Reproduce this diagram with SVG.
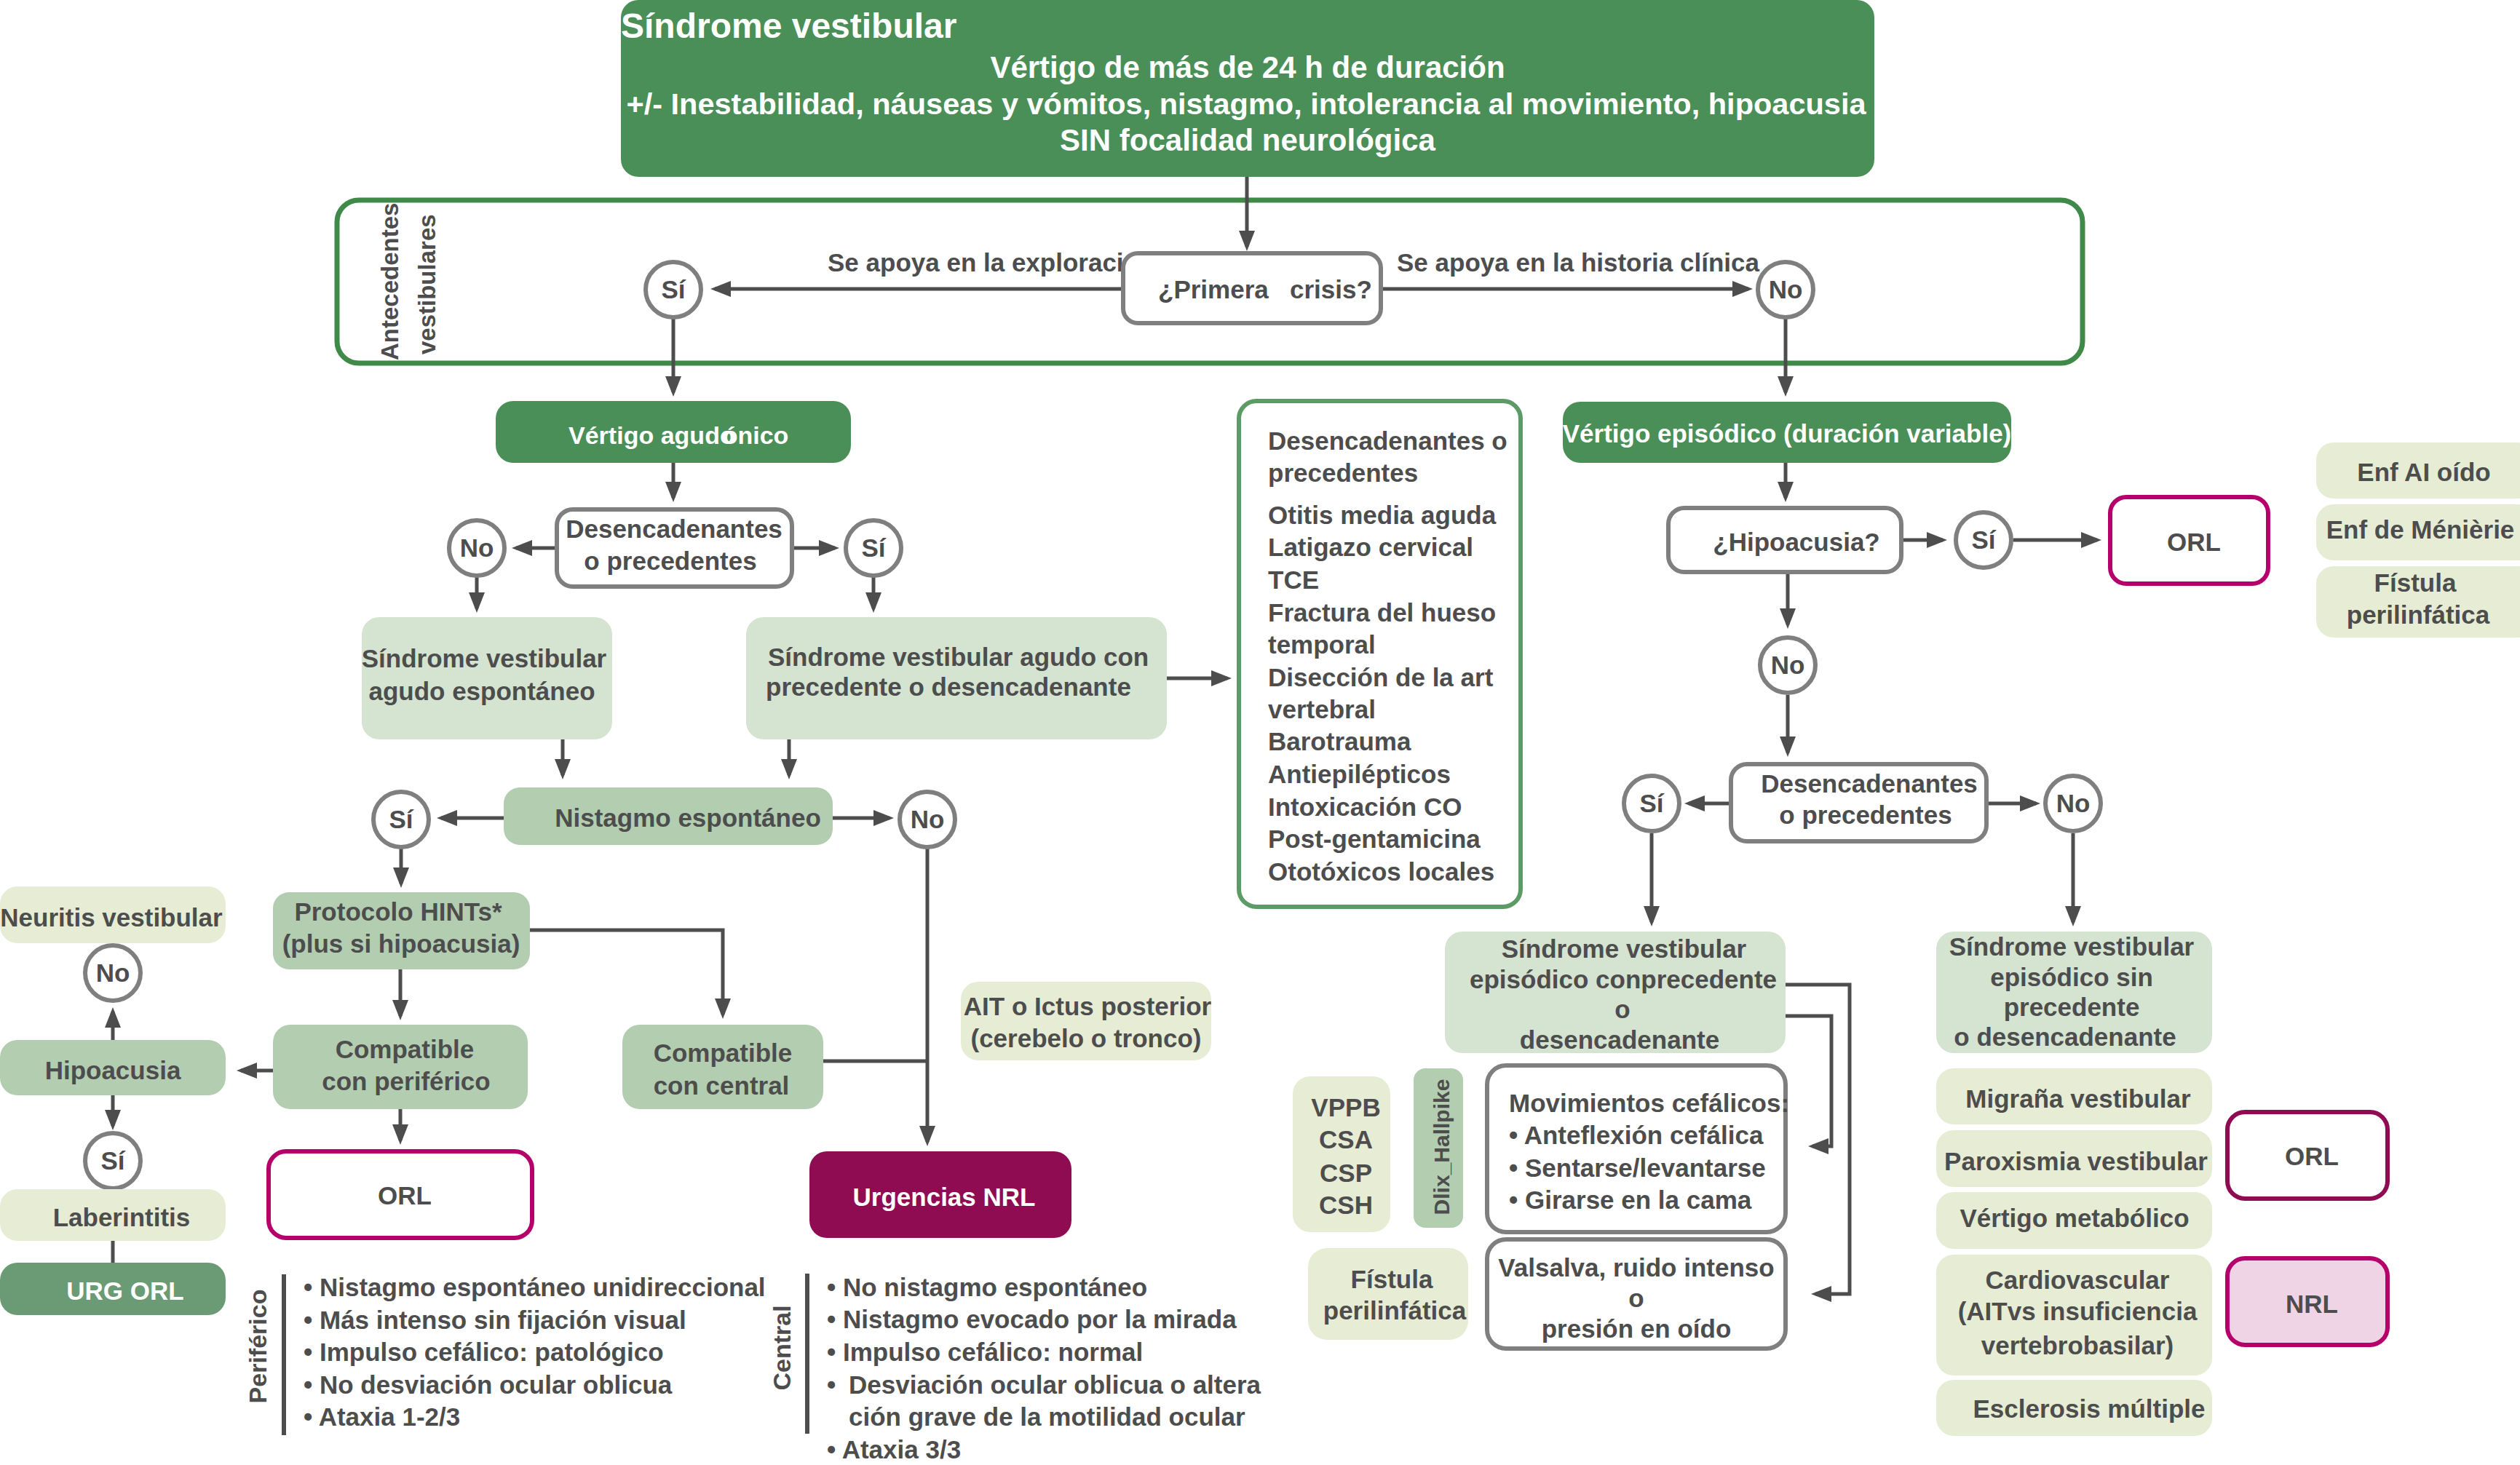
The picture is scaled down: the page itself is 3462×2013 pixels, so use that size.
<svg xmlns="http://www.w3.org/2000/svg" width="3462" height="2013" viewBox="0 0 3462 2013">
<defs>
<style>
text{font-family:"Liberation Sans",Arial,Helvetica,sans-serif;font-weight:bold;font-size:35px;fill:#4d4d4d}
.m{text-anchor:middle}
.w{fill:#ffffff}
.dg{fill:#4a8f57}
.lg{fill:#d4e4d1}
.mg{fill:#b3cdb1}
.pg{fill:#e6edd4}
.q{fill:#ffffff;stroke:#7f7f7f;stroke-width:6}
.ci{fill:#ffffff;stroke:#7f7f7f;stroke-width:6}
.orl{fill:#ffffff;stroke:#b5006b;stroke-width:6}
.conn path{fill:none;stroke:#4d4d4d;stroke-width:5}
</style>
<marker id="ah" markerUnits="userSpaceOnUse" markerWidth="28" markerHeight="22" refX="22" refY="11" orient="auto">
<path d="M0,0 L28,11 L0,22 z" fill="#4d4d4d"/>
</marker>
</defs>
<rect width="3462" height="2013" fill="#ffffff"/>

<g id="top">
<rect x="853" y="0" width="1722" height="243" rx="24" class="dg"/>
<text x="853" y="52" class="w" style="font-size:48px">Síndrome vestibular</text>
<text x="1714" y="107" class="w m" style="font-size:42px">Vértigo de más de 24 h de duración</text>
<text x="1712" y="157" class="w m" style="font-size:41.5px">+/- Inestabilidad, náuseas y vómitos, nistagmo, intolerancia al movimiento, hipoacusia</text>
<text x="1714" y="207" class="w m" style="font-size:42px">SIN focalidad neurológica</text>
</g>

<g id="antecedentes">
<rect x="463" y="275" width="2398" height="224" rx="30" fill="none" stroke="#3f8a48" stroke-width="7"/>
<text transform="translate(547,495) rotate(-90)" style="font-size:33px">Antecedentes</text>
<text transform="translate(598,487) rotate(-90)" style="font-size:33px">vestibulares</text>
</g>

<g id="conn" class="conn">
<path d="M1713,243 V339" marker-end="url(#ah)"/>
<path d="M1543,397 H982" marker-end="url(#ah)"/>
<path d="M1897,397 H2402" marker-end="url(#ah)"/>
<path d="M925,438 V539" marker-end="url(#ah)"/>
<path d="M2453,438 V539" marker-end="url(#ah)"/>
<path d="M925,636 V684" marker-end="url(#ah)"/>
<path d="M765,753 H709" marker-end="url(#ah)"/>
<path d="M1088,753 H1147" marker-end="url(#ah)"/>
<path d="M655,791 V836" marker-end="url(#ah)"/>
<path d="M1200,791 V836" marker-end="url(#ah)"/>
<path d="M1603,932 H1686" marker-end="url(#ah)"/>
<path d="M773,1016 V1065" marker-end="url(#ah)"/>
<path d="M1084,1016 V1065" marker-end="url(#ah)"/>
<path d="M692,1124 H606" marker-end="url(#ah)"/>
<path d="M1144,1124 H1222" marker-end="url(#ah)"/>
<path d="M551,1164 V1214" marker-end="url(#ah)"/>
<path d="M1274,1164 V1569" marker-end="url(#ah)"/>
<path d="M728,1278 H993 V1394" marker-end="url(#ah)"/>
<path d="M550,1332 V1396" marker-end="url(#ah)"/>
<path d="M1131,1458 H1274"/>
<path d="M375,1471 H331" marker-end="url(#ah)"/>
<path d="M155,1429 V1390" marker-end="url(#ah)"/>
<path d="M155,1505 V1547" marker-end="url(#ah)"/>
<path d="M155,1705 V1735"/>
<path d="M550,1524 V1567" marker-end="url(#ah)"/>
<path d="M2453,636 V684" marker-end="url(#ah)"/>
<path d="M2612,742 H2669" marker-end="url(#ah)"/>
<path d="M2766,742 H2881" marker-end="url(#ah)"/>
<path d="M2456,786 V858" marker-end="url(#ah)"/>
<path d="M2456,955 V1034" marker-end="url(#ah)"/>
<path d="M2378,1104 H2320" marker-end="url(#ah)"/>
<path d="M2729,1104 H2797" marker-end="url(#ah)"/>
<path d="M2269,1145 V1267" marker-end="url(#ah)"/>
<path d="M2848,1145 V1267" marker-end="url(#ah)"/>
<path d="M2453,1353 H2541 V1778 H2494" marker-end="url(#ah)"/>
<path d="M2453,1396 H2516 V1575 H2490" marker-end="url(#ah)"/>
</g>

<g id="labels">
<text x="1137" y="373">Se apoya en la exploraci</text>
<text x="1919" y="373">Se apoya en la historia clínica</text>
</g>

<g id="primera">
<rect x="1543" y="348" width="354" height="96" rx="20" class="q"/>
<text x="1591" y="410" xml:space="preserve">¿Primera   crisis?</text>
</g>

<g id="c-si1"><circle cx="925" cy="398" r="38" class="ci"/><text x="925" y="410" class="m">Sí</text></g>
<g id="c-no1"><circle cx="2453" cy="398" r="38" class="ci"/><text x="2453" y="410" class="m">No</text></g>

<g id="vert-agudo">
<rect x="681" y="551" width="488" height="85" rx="24" class="dg"/>
<text x="781" y="610" dx="0 0 0 0 0 0 0 0 0 0 0 0 0 -17" class="w" style="font-size:34px">Vértigo agudoónico</text>
</g>

<g id="desenc1">
<rect x="765" y="700" width="323" height="106" rx="22" class="q"/>
<text x="926" y="739" class="m">Desencadenantes</text>
<text x="921" y="783" class="m">o precedentes</text>
</g>
<g id="c-no2"><circle cx="655" cy="753" r="38" class="ci"/><text x="655" y="765" class="m">No</text></g>
<g id="c-si2"><circle cx="1200" cy="753" r="38" class="ci"/><text x="1200" y="765" class="m">Sí</text></g>

<g id="sva-esp">
<rect x="497" y="848" width="344" height="168" rx="24" class="lg"/>
<text x="665" y="917" class="m">Síndrome vestibular</text>
<text x="662" y="962" class="m">agudo espontáneo</text>
</g>

<g id="sva-prec">
<rect x="1025" y="848" width="578" height="168" rx="24" class="lg"/>
<text x="1055" y="915">Síndrome vestibular agudo con</text>
<text x="1052" y="956">precedente o desencadenante</text>
</g>

<g id="nistagmo">
<rect x="692" y="1082" width="452" height="79" rx="22" class="mg"/>
<text x="945" y="1136" class="m">Nistagmo espontáneo</text>
</g>
<g id="c-si3"><circle cx="551" cy="1126" r="38" class="ci"/><text x="551" y="1138" class="m">Sí</text></g>
<g id="c-no3"><circle cx="1274" cy="1126" r="38" class="ci"/><text x="1274" y="1138" class="m">No</text></g>

<g id="hints">
<rect x="375" y="1226" width="353" height="106" rx="22" class="mg"/>
<text x="547" y="1265" class="m">Protocolo HINTs*</text>
<text x="551" y="1309" class="m">(plus si hipoacusia)</text>
</g>

<g id="comp-per">
<rect x="375" y="1408" width="350" height="116" rx="24" class="mg"/>
<text x="556" y="1454" class="m">Compatible</text>
<text x="558" y="1498" class="m">con periférico</text>
</g>

<g id="comp-cen">
<rect x="855" y="1408" width="276" height="116" rx="24" class="mg"/>
<text x="993" y="1459" class="m">Compatible</text>
<text x="991" y="1504" class="m">con central</text>
</g>

<g id="neuritis">
<rect x="0" y="1218" width="310" height="78" rx="24" class="pg"/>
<text x="153" y="1273" class="m">Neuritis vestibular</text>
</g>
<g id="c-no4"><circle cx="155" cy="1337" r="38" class="ci"/><text x="155" y="1349" class="m">No</text></g>
<g id="hipoacusia1">
<rect x="0" y="1429" width="310" height="76" rx="24" class="mg"/>
<text x="155" y="1483" class="m">Hipoacusia</text>
</g>
<g id="c-si4"><circle cx="155" cy="1595" r="38" class="ci"/><text x="155" y="1607" class="m">Sí</text></g>
<g id="laberintitis">
<rect x="0" y="1634" width="310" height="71" rx="24" class="pg"/>
<text x="167" y="1685" class="m">Laberintitis</text>
</g>
<g id="urg-orl">
<rect x="0" y="1735" width="310" height="72" rx="24" fill="#6b9b74"/>
<text x="172" y="1786" class="m w">URG ORL</text>
</g>

<g id="orl1">
<rect x="369" y="1582" width="362" height="119" rx="24" class="orl"/>
<text x="556" y="1655" class="m">ORL</text>
</g>

<g id="urg-nrl">
<rect x="1112" y="1582" width="360" height="119" rx="24" fill="#8f0c52"/>
<text x="1297" y="1657" class="m w">Urgencias NRL</text>
</g>

<g id="ait">
<rect x="1320" y="1349" width="344" height="108" rx="24" class="pg"/>
<text x="1494" y="1395" class="m">AIT o Ictus posterior</text>
<text x="1492" y="1439" class="m">(cerebelo o tronco)</text>
</g>

<g id="periferico">
<path d="M390,1751 V1972" stroke="#4d4d4d" stroke-width="6"/>
<text transform="translate(366,1850) rotate(-90)" class="m" style="font-size:34px">Periférico</text>
<text x="417" y="1781">• Nistagmo espontáneo unidireccional</text>
<text x="417" y="1826">• Más intenso sin fijación visual</text>
<text x="417" y="1870">• Impulso cefálico: patológico</text>
<text x="417" y="1915">• No desviación ocular oblicua</text>
<text x="417" y="1959">• Ataxia 1-2/3</text>
</g>

<g id="central">
<path d="M1109,1750 V1970" stroke="#4d4d4d" stroke-width="6"/>
<text transform="translate(1086,1852) rotate(-90)" class="m" style="font-size:34px">Central</text>
<text x="1136" y="1781">• No nistagmo espontáneo</text>
<text x="1136" y="1825">• Nistagmo evocado por la mirada</text>
<text x="1136" y="1870">• Impulso cefálico: normal</text>
<text x="1136" y="1915">•<tspan x="1166">Desviación ocular oblicua o altera</tspan></text>
<text x="1166" y="1959">ción grave de la motilidad ocular</text>
<text x="1136" y="2004">• Ataxia 3/3</text>
</g>

<g id="desenc-list">
<rect x="1702" y="551" width="387" height="695" rx="24" fill="#ffffff" stroke="#5c9b66" stroke-width="6"/>
<text x="1742" y="618">Desencadenantes o</text>
<text x="1742" y="662">precedentes</text>
<text x="1742" y="720">Otitis media aguda</text>
<text x="1742" y="764">Latigazo cervical</text>
<text x="1742" y="809">TCE</text>
<text x="1742" y="854">Fractura del hueso</text>
<text x="1742" y="898">temporal</text>
<text x="1742" y="943">Disección de la art</text>
<text x="1742" y="987">vertebral</text>
<text x="1742" y="1031">Barotrauma</text>
<text x="1742" y="1076">Antiepilépticos</text>
<text x="1742" y="1121">Intoxicación CO</text>
<text x="1742" y="1165">Post-gentamicina</text>
<text x="1742" y="1210">Ototóxicos locales</text>
</g>

<g id="vert-epis">
<rect x="2147" y="552" width="616" height="84" rx="24" class="dg"/>
<text x="2455" y="608" class="m w">Vértigo episódico (duración variable)</text>
</g>

<g id="hipoacusia2">
<rect x="2292" y="698" width="320" height="88" rx="22" class="q"/>
<text x="2468" y="757" class="m">¿Hipoacusia?</text>
</g>
<g id="c-si5"><circle cx="2725" cy="742" r="38" class="ci"/><text x="2725" y="754" class="m">Sí</text></g>
<g id="orl2">
<rect x="2899" y="683" width="217" height="119" rx="22" class="orl"/>
<text x="3014" y="757" class="m">ORL</text>
</g>

<g id="enf-ai"><rect x="3182" y="608" width="300" height="77" rx="24" class="pg"/><text x="3330" y="661" class="m">Enf AI oído</text></g>
<g id="enf-men"><rect x="3182" y="693" width="300" height="77" rx="24" class="pg"/><text x="3325" y="740" class="m">Enf de Ménièrie</text></g>
<g id="fistula1"><rect x="3182" y="778" width="300" height="98" rx="24" class="pg"/><text x="3318" y="813" class="m">Fístula</text><text x="3322" y="857" class="m">perilinfática</text></g>

<g id="c-no5"><circle cx="2456" cy="914" r="38" class="ci"/><text x="2456" y="926" class="m">No</text></g>

<g id="desenc2">
<rect x="2378" y="1050" width="351" height="106" rx="22" class="q"/>
<text x="2568" y="1089" class="m">Desencadenantes</text>
<text x="2563" y="1132" class="m">o precedentes</text>
</g>
<g id="c-si6"><circle cx="2269" cy="1104" r="38" class="ci"/><text x="2269" y="1116" class="m">Sí</text></g>
<g id="c-no6"><circle cx="2848" cy="1104" r="38" class="ci"/><text x="2848" y="1116" class="m">No</text></g>

<g id="sve-prec">
<rect x="1985" y="1280" width="468" height="167" rx="24" class="lg"/>
<text x="2231" y="1316" class="m">Síndrome vestibular</text>
<text x="2230" y="1358" class="m">episódico conprecedente</text>
<text x="2229" y="1399" class="m">o</text>
<text x="2225" y="1441" class="m">desencadenante</text>
</g>

<g id="movimientos">
<rect x="2043" y="1464" width="410" height="229" rx="26" class="q"/>
<text x="2073" y="1528">Movimientos cefálicos:</text>
<text x="2073" y="1572">• Anteflexión cefálica</text>
<text x="2073" y="1617">• Sentarse/levantarse</text>
<text x="2073" y="1661">• Girarse en la cama</text>
</g>

<g id="valsalva">
<rect x="2043" y="1703" width="410" height="150" rx="26" class="q"/>
<text x="2248" y="1754" class="m">Valsalva, ruido intenso</text>
<text x="2248" y="1796" class="m">o</text>
<text x="2248" y="1838" class="m">presión en oído</text>
</g>

<g id="vppb">
<rect x="1776" y="1479" width="134" height="214" rx="24" class="pg"/>
<text x="1849" y="1534" class="m">VPPB</text>
<text x="1849" y="1578" class="m">CSA</text>
<text x="1849" y="1624" class="m">CSP</text>
<text x="1849" y="1668" class="m">CSH</text>
</g>

<g id="dix">
<rect x="1942" y="1468" width="68" height="219" rx="16" class="mg"/>
<text transform="translate(1991,1576) rotate(-90)" class="m" style="font-size:30px">Dlix_Hallpike</text>
</g>

<g id="fistula2">
<rect x="1797" y="1715" width="220" height="126" rx="26" class="pg"/>
<text x="1912" y="1770" class="m">Fístula</text>
<text x="1916" y="1813" class="m">perilinfática</text>
</g>

<g id="sve-sin">
<rect x="2660" y="1280" width="379" height="167" rx="24" class="lg"/>
<text x="2846" y="1313" class="m">Síndrome vestibular</text>
<text x="2846" y="1355" class="m">episódico sin</text>
<text x="2846" y="1396" class="m">precedente</text>
<text x="2837" y="1437" class="m">o desencadenante</text>
</g>

<g id="migrana"><rect x="2660" y="1468" width="379" height="77" rx="24" class="pg"/><text x="2855" y="1522" class="m">Migraña vestibular</text></g>
<g id="paroxismia"><rect x="2660" y="1553" width="379" height="78" rx="24" class="pg"/><text x="2852" y="1608" class="m">Paroxismia vestibular</text></g>
<g id="metabolico"><rect x="2660" y="1638" width="379" height="78" rx="24" class="pg"/><text x="2850" y="1686" class="m">Vértigo metabólico</text></g>
<g id="cardio"><rect x="2660" y="1724" width="379" height="166" rx="24" class="pg"/>
<text x="2854" y="1771" class="m">Cardiovascular</text>
<text x="2854" y="1814" class="m">(AITvs insuficiencia</text>
<text x="2854" y="1861" class="m">vertebrobasilar)</text></g>
<g id="esclerosis"><rect x="2660" y="1896" width="379" height="77" rx="24" class="pg"/><text x="2870" y="1948" class="m">Esclerosis múltiple</text></g>

<g id="orl3">
<rect x="3060" y="1528" width="220" height="119" rx="24" fill="#ffffff" stroke="#8f0c52" stroke-width="6"/>
<text x="3176" y="1601" class="m">ORL</text>
</g>
<g id="nrl">
<rect x="3060" y="1729" width="220" height="119" rx="24" fill="#efd4e6" stroke="#b5006b" stroke-width="6"/>
<text x="3176" y="1804" class="m">NRL</text>
</g>
</svg>
